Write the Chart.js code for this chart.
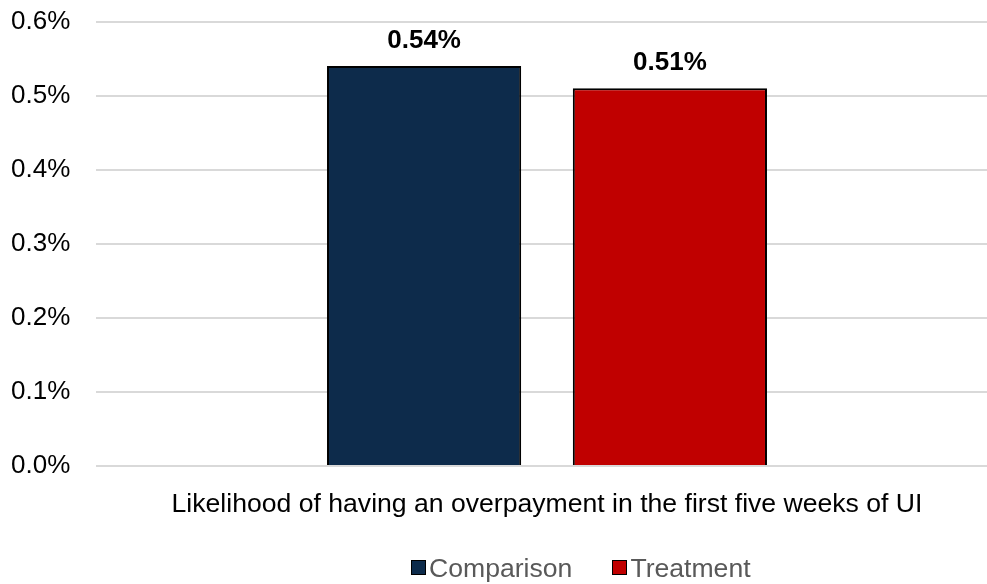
<!DOCTYPE html>
<html lang="en">
  <head>
    <meta charset="utf-8">
    <title>Overpayment Likelihood</title>
    <style>
      body {padding: 0; margin: 0; overflow: hidden; background: #fff;}
      #wrap {position: relative; width: 987px; height: 584px; overflow: hidden;}
      #box {position: absolute; left: 0; top: 0; width: 1000px; height: 584px;}
      #legend {position: absolute; top: 552px; left: 411px; font-family: Arial, "Liberation Sans", sans-serif;
        font-size: 26.6px; line-height: 32px; color: #595959; white-space: nowrap;}
      #legend span.item {display: inline-block; margin-right: 40px;}
      #legend span.sw {display: inline-block; width: 13px; height: 13px; border: 1.5px solid #000;
        margin-right: 3px; vertical-align: 2px;}
    </style>
    <script src="https://cdn.jsdelivr.net/npm/chart.js@4/dist/chart.umd.min.js"></script>
  </head>
  <body>
    <div id="wrap">
      <div id="box"><canvas id="barChart"></canvas></div>
      <div id="legend"></div>
    </div>
    <script>
      var categories = ['Likelihood of having an overpayment in the first five weeks of UI'];
      var seriesNames = ['Comparison', 'Treatment'];
      var comparison = [0.54];
      var treatment = [0.51];
      var yTicks = [0, 0.1, 0.2, 0.3, 0.4, 0.5, 0.6];
      var colors = ['#0d2b4b', '#c00000'];

      var font = 'Arial, "Liberation Sans", sans-serif';

      // value labels above each bar
      var barLabels = {
        id: 'barLabels',
        afterDatasetsDraw(chart) {
          var ctx = chart.ctx;
          ctx.save();
          ctx.font = 'bold 26px ' + font;
          ctx.fillStyle = '#000';
          ctx.textAlign = 'center';
          ctx.textBaseline = 'middle';
          chart.data.datasets.forEach(function (ds, i) {
            chart.getDatasetMeta(i).data.forEach(function (bar, j) {
              ctx.fillText(ds.data[j].toFixed(2) + '%', bar.x, bar.y - 25);
            });
          });
          ctx.restore();
        }
      };

      var ctx = document.getElementById('barChart').getContext('2d');
      var chart = new Chart(ctx, {
        type: 'bar',
        data: {
          labels: categories,
          datasets: [
            {label: seriesNames[0], data: comparison, backgroundColor: colors[0], borderColor: '#000', borderWidth: 2},
            {label: seriesNames[1], data: treatment, backgroundColor: colors[1], borderColor: '#000', borderWidth: 2}
          ]
        },
        options: {
          responsive: true,
          maintainAspectRatio: false,
          animation: false,
          layout: {padding: {top: 0, left: 11, right: 2}},
          categoryPercentage: 0.545,
          barPercentage: 0.79,
          plugins: {legend: {display: false}, tooltip: {enabled: false}},
          scales: {
            x: {
              grid: {display: false},
              border: {display: false},
              ticks: {color: '#000', font: {family: font, size: 26.6}, padding: 15, maxRotation: 0, minRotation: 0},
              afterFit: function (axis) { axis.height = 118; }
            },
            y: {
              min: 0,
              max: 0.6,
              afterBuildTicks: function (axis) { axis.ticks = yTicks.map(function (v) { return {value: v}; }); },
              grid: {color: '#d9d9d9', lineWidth: 2, drawTicks: false},
              border: {display: false},
              ticks: {
                color: '#000',
                font: {family: font, size: 26},
                padding: 6,
                crossAlign: 'far',
                callback: function (v) { return v.toFixed(1) + '%'; }
              },
              afterFit: function (axis) { axis.width = 85; }
            }
          }
        },
        plugins: [barLabels]
      });

      var legend = document.getElementById('legend');
      seriesNames.forEach(function (name, i) {
        var item = document.createElement('span');
        item.className = 'item';
        item.innerHTML = '<span class="sw" style="background:' + colors[i] + '"></span>' + name;
        legend.appendChild(item);
      });
    </script>
  </body>
</html>
